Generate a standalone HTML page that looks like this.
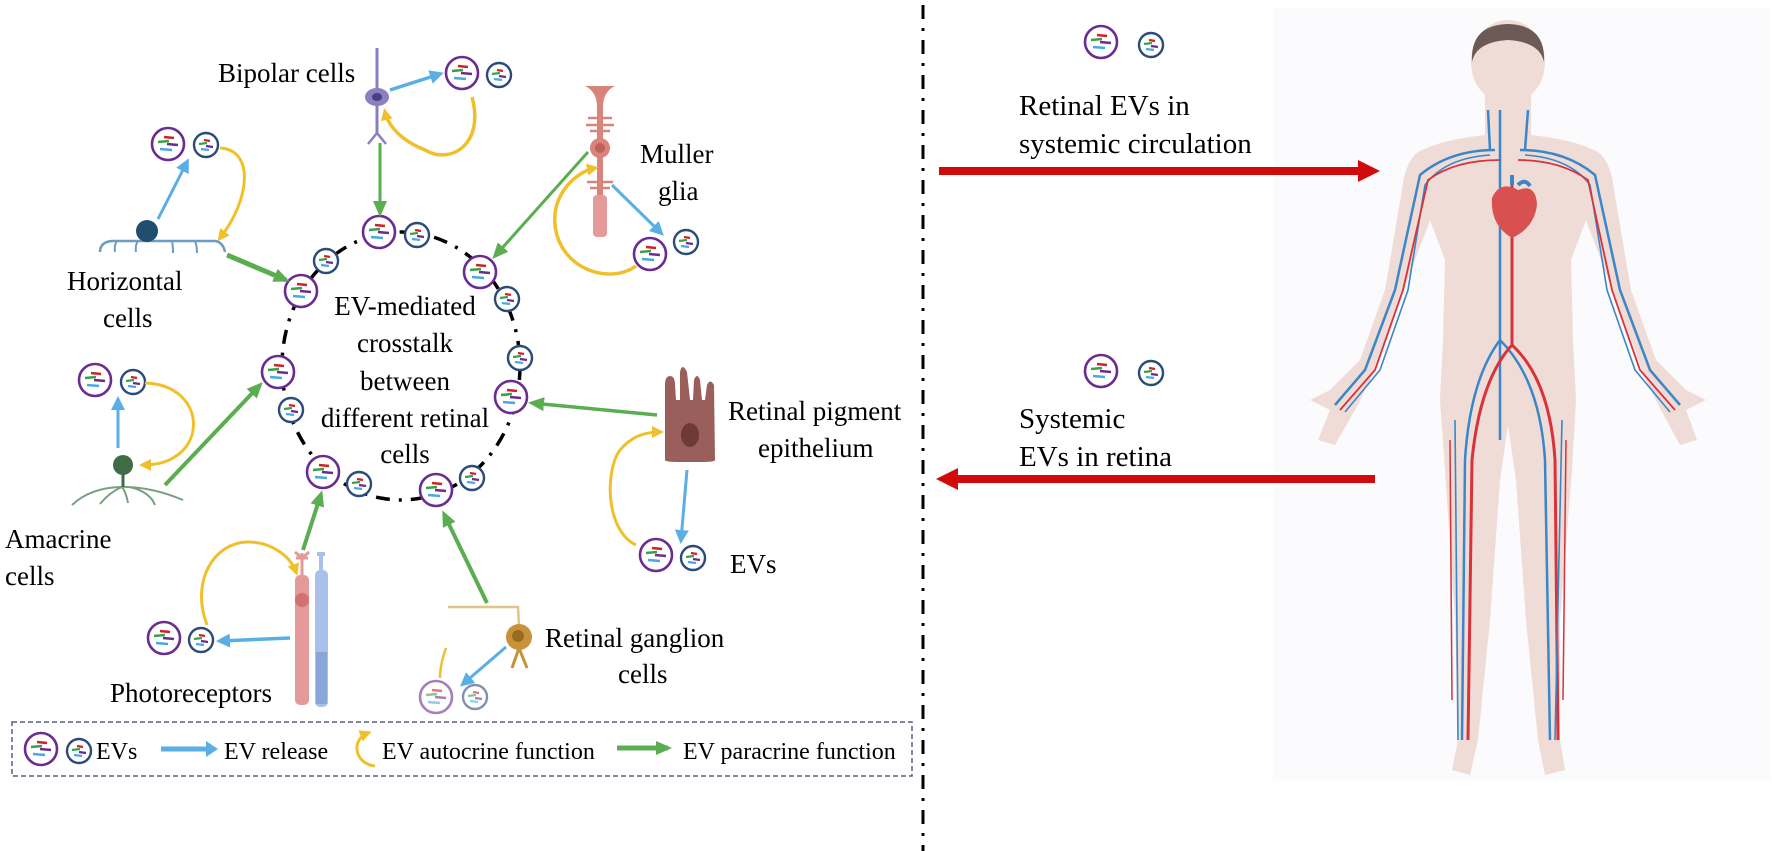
<!DOCTYPE html>
<html><head><meta charset="utf-8"><style>
html,body{margin:0;padding:0;background:#fff;}
svg{display:block;}
text{font-family:"Liberation Serif",serif;fill:#000;}
</style></head><body>
<svg width="1772" height="851" viewBox="0 0 1772 851" xmlns="http://www.w3.org/2000/svg">
<defs>
<g id="P">
<circle r="16" fill="#fff" stroke="#6a2c91" stroke-width="2.6"/>
<path d="M-4,-7 L6,-6" stroke="#d0202a" stroke-width="2.6"/>
<path d="M-10,-2 L1,-3" stroke="#3aa04a" stroke-width="2.6"/>
<path d="M-1,0 L10,1" stroke="#6a2c91" stroke-width="2.6"/>
<path d="M-8,5 L4,6" stroke="#4aa8e0" stroke-width="2.6"/>
</g>
<g id="B">
<circle r="12" fill="#fff" stroke="#2c4a7a" stroke-width="2.4"/>
<path d="M-2,-5 L4,-4" stroke="#d0202a" stroke-width="2.2"/>
<path d="M-7,-1 L1,-2" stroke="#3aa04a" stroke-width="2.2"/>
<path d="M0,1 L7,2" stroke="#6a2c91" stroke-width="2.2"/>
<path d="M-5,4 L3,5" stroke="#4aa8e0" stroke-width="2.2"/>
</g>
<marker id="mb2" markerWidth="14" markerHeight="14" refX="10" refY="7" orient="auto" markerUnits="userSpaceOnUse" viewBox="0 0 14 14"><path d="M0,0 L14,7 L0,14 Z" fill="#5aaee6"/></marker>
<marker id="mg" markerWidth="16" markerHeight="14" refX="12" refY="7" orient="auto" markerUnits="userSpaceOnUse" viewBox="0 0 16 14"><path d="M0,0 L16,7 L0,14 Z" fill="#5aad50"/></marker>
<marker id="my" markerWidth="12" markerHeight="12" refX="8" refY="6" orient="auto" markerUnits="userSpaceOnUse" viewBox="0 0 12 12"><path d="M0,0 L12,6 L0,12 Z" fill="#f0c02a"/></marker>
<marker id="mr" markerWidth="22" markerHeight="22" refX="14" refY="11" orient="auto" markerUnits="userSpaceOnUse" viewBox="0 0 22 22"><path d="M0,0 L22,11 L0,22 Z" fill="#d10a0a"/></marker>
</defs>

<line x1="923" y1="5" x2="923" y2="851" stroke="#000" stroke-width="3" stroke-dasharray="14 9 3 9"/>

<ellipse cx="401" cy="366" rx="119" ry="134" fill="none" stroke="#000" stroke-width="3.5" stroke-dasharray="14 9 3 9"/>
<g font-size="27" text-anchor="middle">
<text x="405" y="315">EV-mediated</text>
<text x="405" y="352">crosstalk</text>
<text x="405" y="390">between</text>
<text x="405" y="427">different retinal</text>
<text x="405" y="463">cells</text>
</g>
<use href="#P" x="379" y="232"/><use href="#B" x="417" y="235"/>
<use href="#B" x="326" y="261"/><use href="#P" x="301" y="291"/>
<use href="#P" x="480" y="272"/><use href="#B" x="507" y="299"/>
<use href="#B" x="520" y="358"/><use href="#P" x="511" y="397"/>
<use href="#P" x="278" y="372"/><use href="#B" x="291" y="410"/>
<use href="#P" x="323" y="472"/><use href="#B" x="359" y="484"/>
<use href="#P" x="436" y="490"/><use href="#B" x="472" y="478"/>

<line x1="377" y1="48" x2="377" y2="135" stroke="#8a7fc0" stroke-width="3"/>
<path d="M377,133 L368,144 M377,133 L386,144" stroke="#8a7fc0" stroke-width="2.5" fill="none"/>
<ellipse cx="377" cy="97" rx="12" ry="9" fill="#8a7fc0"/><ellipse cx="377" cy="97" rx="5" ry="4" fill="#4a3f80"/>
<text x="218" y="82" font-size="27">Bipolar cells</text>
<line x1="390" y1="90" x2="440" y2="74" stroke="#5aaee6" stroke-width="3.5" marker-end="url(#mb2)"/>
<use href="#P" x="462" y="73"/><use href="#B" x="499" y="75"/>
<path d="M472,97 C485,145 450,165 425,150 C400,140 388,125 385,112" fill="none" stroke="#f0c02a" stroke-width="3.5" marker-end="url(#my)"/>
<line x1="380" y1="143" x2="380" y2="213" stroke="#5aad50" stroke-width="3" marker-end="url(#mg)"/>

<use href="#P" x="168" y="144"/><use href="#B" x="206" y="145"/>
<line x1="158" y1="219" x2="187" y2="162" stroke="#5aaee6" stroke-width="3" marker-end="url(#mb2)"/>
<path d="M220,148 C255,150 250,200 220,238" fill="none" stroke="#f0c02a" stroke-width="3" marker-end="url(#my)"/>
<path d="M100,252 Q100,242 112,241 L215,241 Q223,242 225,252" fill="none" stroke="#6e9cc0" stroke-width="2.5"/>
<path d="M117,241 Q114,245 115,252 M138,241 Q135,245 136,252 M172,241 Q173,246 173,253 M195,241 Q197,246 197,253" fill="none" stroke="#6e9cc0" stroke-width="2"/>
<circle cx="147" cy="231" r="11" fill="#1f4e6e"/>
<line x1="227" y1="255" x2="286" y2="280" stroke="#5aad50" stroke-width="5" marker-end="url(#mg)"/>
<text x="67" y="290" font-size="27">Horizontal</text>
<text x="103" y="327" font-size="27">cells</text>

<use href="#P" x="95" y="380"/><use href="#B" x="133" y="382"/>
<line x1="118" y1="448" x2="118" y2="400" stroke="#5aaee6" stroke-width="3" marker-end="url(#mb2)"/>
<path d="M145,383 C210,385 210,465 143,465" fill="none" stroke="#f0c02a" stroke-width="3" marker-end="url(#my)"/>
<path d="M72,505 Q90,488 120,487 Q150,486 183,500 M100,504 Q110,492 122,487 M128,503 Q126,492 122,487 M155,505 Q150,492 130,487" fill="none" stroke="#7a9f80" stroke-width="2"/>
<path d="M123,470 L123,487" stroke="#3f6b45" stroke-width="3"/>
<circle cx="123" cy="465" r="10" fill="#3f6b45"/>
<line x1="165" y1="485" x2="260" y2="385" stroke="#5aad50" stroke-width="4" marker-end="url(#mg)"/>
<text x="5" y="548" font-size="27">Amacrine</text>
<text x="5" y="585" font-size="27">cells</text>

<rect x="295" y="575" width="14" height="130" rx="5" fill="#e49a98"/>
<circle cx="302" cy="600" r="7" fill="#d2726f"/>
<path d="M302,575 L302,553 M296,558 L308,558 M295,552 L302,558 L309,552" stroke="#e49a98" stroke-width="3" fill="none"/>
<rect x="315" y="570" width="13" height="137" rx="5" fill="#a8c0ea"/>
<rect x="316" y="652" width="11" height="52" fill="#8aa6d8"/>
<path d="M321,570 L321,556 M317,554 L325,554" stroke="#a8c0ea" stroke-width="4"/>
<line x1="303" y1="550" x2="321" y2="494" stroke="#5aad50" stroke-width="4" marker-end="url(#mg)"/>
<path d="M207,625 C190,580 215,542 248,542 C270,542 290,555 296,572" fill="none" stroke="#f0c02a" stroke-width="3" marker-end="url(#my)"/>
<line x1="290" y1="638" x2="220" y2="641" stroke="#5aaee6" stroke-width="3.5" marker-end="url(#mb2)"/>
<use href="#P" x="164" y="638"/><use href="#B" x="201" y="640"/>
<text x="110" y="702" font-size="27">Photoreceptors</text>

<path d="M585,86 L615,86 Q602,92 603,110 L603,140 L597,140 L597,110 Q598,92 585,86Z" fill="#d9847a"/>
<path d="M588,118 L612,118 M586,125 L614,125 M590,131 L610,131 M587,182 L613,182 M590,188 L610,188" stroke="#d9847a" stroke-width="2.5"/>
<circle cx="600" cy="148" r="10" fill="#d9847a"/><circle cx="600" cy="148" r="5" fill="#c0605a"/>
<rect x="597" y="155" width="6" height="40" fill="#d9847a"/>
<rect x="593" y="195" width="14" height="42" rx="4" fill="#e49a98"/>
<text x="640" y="163" font-size="27">Muller</text>
<text x="658" y="200" font-size="27">glia</text>
<line x1="588" y1="152" x2="495" y2="256" stroke="#5aad50" stroke-width="3" marker-end="url(#mg)"/>
<path d="M636,266 C610,285 560,270 555,225 C552,195 575,172 595,168" fill="none" stroke="#f0c02a" stroke-width="3.5" marker-end="url(#my)"/>
<line x1="612" y1="185" x2="661" y2="233" stroke="#5aaee6" stroke-width="3" marker-end="url(#mb2)"/>
<use href="#P" x="650" y="254"/><use href="#B" x="686" y="242"/>

<path d="M665,460 L665,385 Q665,376 670,376 Q675,376 675,385 L676,400 L680,400 L680,372 Q682,362 687,372 L690,400 L693,400 L694,380 Q697,372 700,380 L702,400 L705,400 L707,385 Q710,378 714,385 L715,460 Q715,462 700,462 L680,462 Q665,462 665,460Z" fill="#9a5e5b"/>
<ellipse cx="690" cy="435" rx="9" ry="12" fill="#6e3a38"/>
<line x1="657" y1="415" x2="532" y2="403" stroke="#5aad50" stroke-width="3.5" marker-end="url(#mg)"/>
<text x="728" y="420" font-size="27">Retinal pigment</text>
<text x="758" y="457" font-size="27">epithelium</text>
<path d="M636,545 C605,530 605,470 620,450 C632,436 645,432 660,432" fill="none" stroke="#f0c02a" stroke-width="3" marker-end="url(#my)"/>
<line x1="687" y1="470" x2="681" y2="540" stroke="#5aaee6" stroke-width="3" marker-end="url(#mb2)"/>
<use href="#P" x="656" y="555"/><use href="#B" x="693" y="558"/>
<text x="730" y="573" font-size="27">EVs</text>

<path d="M448,607 L518,607 L519,625" fill="none" stroke="#e0c48a" stroke-width="2.5"/>
<circle cx="519" cy="637" r="13" fill="#c8923a"/><circle cx="518" cy="636" r="6" fill="#9a6a20"/>
<path d="M519,648 L512,668 M519,648 L527,668" stroke="#c8923a" stroke-width="3"/>
<line x1="487" y1="603" x2="444" y2="514" stroke="#5aad50" stroke-width="4" marker-end="url(#mg)"/>
<line x1="506" y1="647" x2="463" y2="684" stroke="#5aaee6" stroke-width="3" marker-end="url(#mb2)"/>
<path d="M446,648 Q440,665 440,678" fill="none" stroke="#f0c02a" stroke-width="2.5"/>
<g opacity="0.6"><use href="#P" x="436" y="697"/><use href="#B" x="475" y="697"/></g>
<text x="545" y="647" font-size="27">Retinal ganglion</text>
<text x="618" y="683" font-size="27">cells</text>

<rect x="12" y="722" width="900" height="54" fill="none" stroke="#556080" stroke-width="1.5" stroke-dasharray="5 3"/>
<use href="#P" x="41" y="749"/><use href="#B" x="79" y="751"/>
<text x="96" y="759" font-size="24">EVs</text>
<line x1="161" y1="749" x2="210" y2="749" stroke="#5aaee6" stroke-width="5"/>
<path d="M206,741 L218,749 L206,757Z" fill="#5aaee6"/>
<text x="224" y="759" font-size="24">EV release</text>
<path d="M375,766 C355,764 350,740 368,733" fill="none" stroke="#f0c02a" stroke-width="3" marker-end="url(#my)"/>
<text x="382" y="759" font-size="24">EV autocrine function</text>
<line x1="617" y1="748" x2="668" y2="748" stroke="#5aad50" stroke-width="5" marker-end="url(#mg)"/>
<text x="683" y="759" font-size="24">EV paracrine function</text>

<use href="#P" x="1101" y="42"/><use href="#B" x="1151" y="45"/>
<text x="1019" y="115" font-size="29">Retinal EVs in</text>
<text x="1019" y="153" font-size="29">systemic circulation</text>
<use href="#P" x="1101" y="371"/><use href="#B" x="1151" y="373"/>
<text x="1019" y="428" font-size="29">Systemic</text>
<text x="1019" y="466" font-size="29">EVs in retina</text>

<rect x="1273" y="8" width="497" height="772" fill="#fbfafc"/>
<g fill="#efdcd6">
<path d="M1485,95 L1485,135 Q1440,140 1418,152 Q1405,162 1402,190 L1385,290 L1360,360 L1330,390 L1310,400 L1330,410 L1318,440 L1335,445 L1355,410 L1370,380 L1400,300 L1430,220 L1445,260 L1443,340 L1440,400 L1445,470 L1455,620 L1458,740 L1452,770 L1470,775 L1478,740 L1490,620 L1500,480 L1508,425 L1516,480 L1526,620 L1538,740 L1545,775 L1565,770 L1560,740 L1560,620 L1572,470 L1576,400 L1573,340 L1571,260 L1586,220 L1616,300 L1646,380 L1661,410 L1680,445 L1697,440 L1686,410 L1706,400 L1686,390 L1656,360 L1631,290 L1614,190 Q1611,162 1598,152 Q1576,140 1531,135 L1531,95Z"/>
<ellipse cx="1508" cy="62" rx="37" ry="42"/>
</g>
<path d="M1472,62 Q1470,25 1508,24 Q1546,25 1544,62 Q1540,42 1508,40 Q1476,42 1472,62Z" fill="#6b5a55"/>
<g fill="none" stroke-width="2.5">
<path d="M1500,110 L1500,440 M1500,340 Q1470,380 1465,460 L1462,740 M1500,340 Q1540,380 1545,460 L1550,740" stroke="#3a86c8"/>
<path d="M1512,180 L1512,345 Q1480,380 1472,460 L1468,740 M1512,345 Q1550,380 1555,460 L1558,740" stroke="#d8323a" stroke-width="3"/>
<path d="M1495,150 Q1450,150 1420,175 L1395,290 L1365,370 L1335,405 M1520,150 Q1565,150 1595,175 L1620,290 L1650,370 L1680,405" stroke="#3a86c8"/>
<path d="M1490,155 Q1445,158 1425,185 L1408,290 L1380,370 L1345,412 M1525,155 Q1570,158 1590,185 L1607,290 L1635,370 L1670,412" stroke="#3a86c8" stroke-width="1.6"/>
<path d="M1500,160 Q1455,160 1428,180 L1403,290 L1375,370 L1340,410 M1518,160 Q1560,160 1588,180 L1612,290 L1640,370 L1675,410" stroke="#d8323a" stroke-width="1.8"/>
<path d="M1455,420 L1458,740 M1562,420 L1555,740" stroke="#3a86c8" stroke-width="1.6"/>
<path d="M1450,440 L1452,700 M1566,440 L1563,700" stroke="#d8323a" stroke-width="1.5"/>
<path d="M1488,110 L1490,150 M1528,110 L1525,150" stroke="#3a86c8"/>
</g>
<path d="M1492,198 Q1500,180 1518,190 Q1536,183 1537,205 Q1534,228 1512,238 Q1490,225 1492,198Z" fill="#d85050"/>
<path d="M1512,185 L1512,175 M1518,185 Q1525,178 1530,186" stroke="#3a86c8" stroke-width="4" fill="none"/>

<line x1="939" y1="171" x2="1372" y2="171" stroke="#d10a0a" stroke-width="8" marker-end="url(#mr)"/>
<line x1="1375" y1="479" x2="944" y2="479" stroke="#d10a0a" stroke-width="8" marker-end="url(#mr)"/>
</svg>
</body></html>
